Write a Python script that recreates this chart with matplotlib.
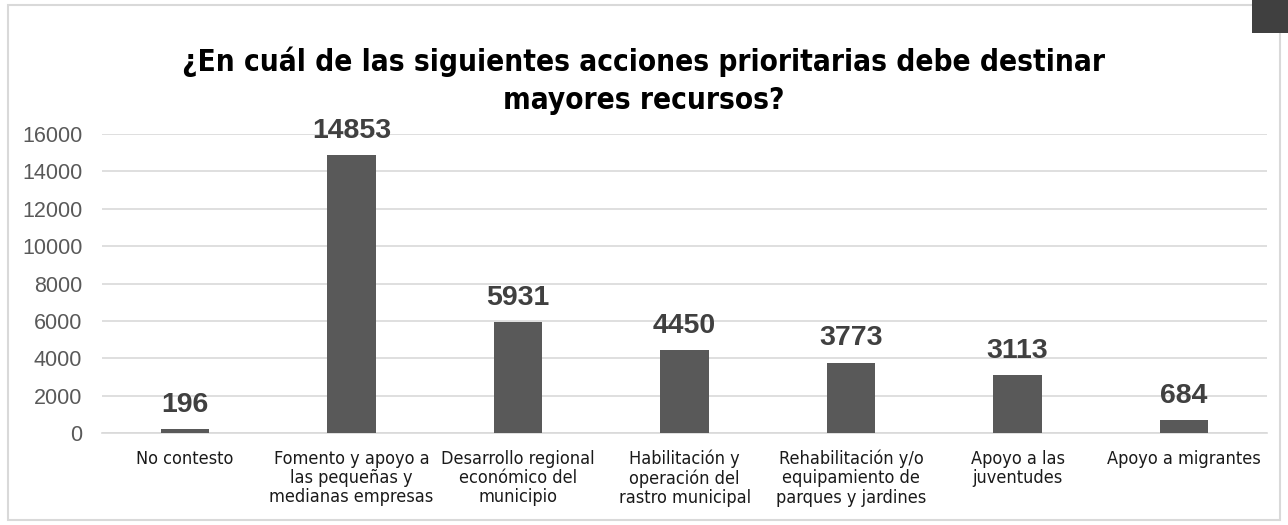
import matplotlib
matplotlib.use("Agg")
import matplotlib.pyplot as plt
from matplotlib.patches import Rectangle

categories = [
    "No contesto",
    "Fomento y apoyo a\nlas pequeñas y\nmedianas empresas",
    "Desarrollo regional\neconómico del\nmunicipio",
    "Habilitación y\noperación del\nrastro municipal",
    "Rehabilitación y/o\nequipamiento de\nparques y jardines",
    "Apoyo a las\njuventudes",
    "Apoyo a migrantes",
]
values = [196, 14853, 5931, 4450, 3773, 3113, 684]
yticks = [0, 2000, 4000, 6000, 8000, 10000, 12000, 14000, 16000]
title = "¿En cuál de las siguientes acciones prioritarias debe destinar\nmayores recursos?"

fig = plt.figure(figsize=(12.88, 5.25), dpi=100)
ax = fig.add_axes([0.079, 0.175, 0.905, 0.570])

x = list(range(len(categories)))
ax.bar(x, values, width=0.29, color="#595959", zorder=3)
for xi, v in zip(x, values):
    ax.annotate(str(v), (xi, v), xytext=(0, 8), textcoords="offset points",
                ha="center", va="bottom", fontsize=20.5, fontweight="bold",
                color="#404040", family="Liberation Sans", zorder=4)

ax.set_xlim(-0.5, len(categories) - 0.5)
ax.set_ylim(0, 16000)
ax.set_yticks(yticks)
ax.set_yticklabels([str(t) for t in yticks], fontsize=15.5, color="#595959",
                   family="Liberation Sans")
ax.set_xticks(x)
ax.set_xticklabels(categories, fontsize=13, color="#1a1a1a", family="DejaVu Sans",
                   fontstretch="condensed", linespacing=1.08)
ax.tick_params(axis="both", length=0)
ax.tick_params(axis="x", pad=12)
ax.tick_params(axis="y", pad=14)
ax.grid(axis="y", color="#d9d9d9", linewidth=1.2, zorder=0)
for s in ["top", "right", "left"]:
    ax.spines[s].set_visible(False)
ax.spines["bottom"].set_color("#d9d9d9")
ax.spines["bottom"].set_linewidth(1.2)

fig.text(0.5, 1 - 81 / 525, title, ha="center", va="center", fontsize=21.3,
         fontweight="bold", color="#000000", family="DejaVu Sans",
         fontstretch="condensed", linespacing=1.4)

# chart frame
fig.add_artist(Rectangle((8 / 1288, 5 / 525), 1272 / 1288, 1 - 10 / 525,
                         transform=fig.transFigure, fill=False,
                         edgecolor="#d9d9d9", linewidth=1.5))
fig.add_artist(Rectangle((1252 / 1288, 1 - 33 / 525), 36 / 1288, 33 / 525,
                         transform=fig.transFigure, facecolor="#404040",
                         edgecolor="none"))

fig.savefig("out.png", dpi=100)
